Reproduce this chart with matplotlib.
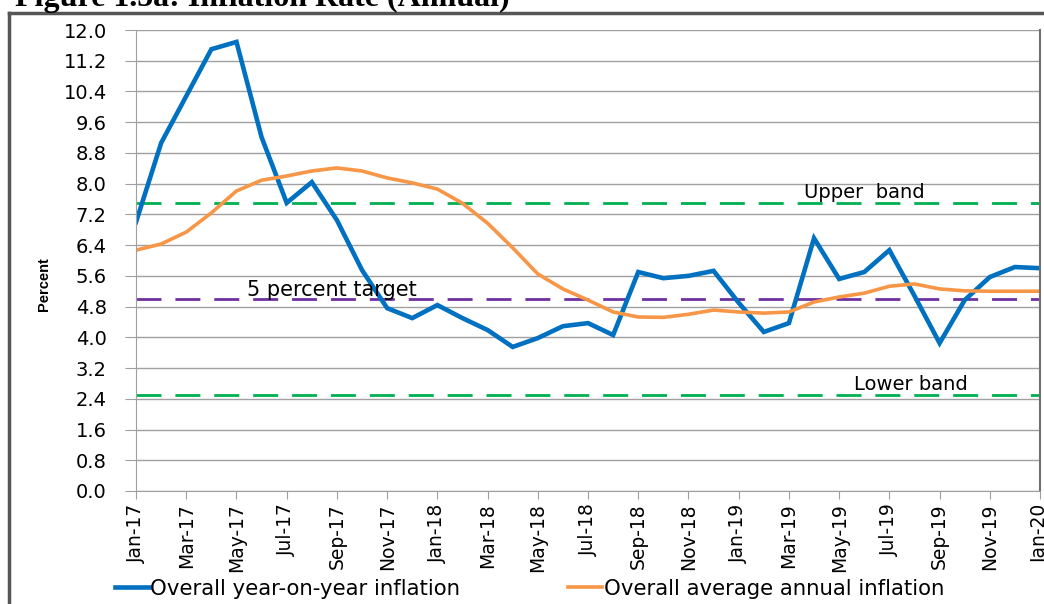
import numpy as np
import matplotlib.pyplot as plt
from matplotlib.lines import Line2D

# Monthly data, Jan-17 .. Jan-20
months = ["Jan-17", "Feb-17", "Mar-17", "Apr-17", "May-17", "Jun-17", "Jul-17", "Aug-17",
          "Sep-17", "Oct-17", "Nov-17", "Dec-17", "Jan-18", "Feb-18", "Mar-18", "Apr-18",
          "May-18", "Jun-18", "Jul-18", "Aug-18", "Sep-18", "Oct-18", "Nov-18", "Dec-18",
          "Jan-19", "Feb-19", "Mar-19", "Apr-19", "May-19", "Jun-19", "Jul-19", "Aug-19",
          "Sep-19", "Oct-19", "Nov-19", "Dec-19", "Jan-20"]

yoy = [7.00, 9.06, 10.28, 11.50, 11.69, 9.21, 7.50, 8.04,
       7.05, 5.75, 4.76, 4.50, 4.84, 4.50, 4.19, 3.75,
       3.98, 4.29, 4.37, 4.06, 5.70, 5.54, 5.60, 5.73,
       4.90, 4.14, 4.37, 6.58, 5.52, 5.70, 6.27, 5.08,
       3.85, 4.97, 5.57, 5.83, 5.80]

avg = [6.27, 6.43, 6.74, 7.24, 7.81, 8.09, 8.20, 8.33,
       8.41, 8.33, 8.15, 8.02, 7.86, 7.49, 6.97, 6.33,
       5.65, 5.26, 4.97, 4.66, 4.53, 4.52, 4.60, 4.71,
       4.66, 4.63, 4.66, 4.92, 5.05, 5.15, 5.33, 5.39,
       5.26, 5.21, 5.20, 5.20, 5.20]

upper_band = 7.5
target = 5.0
lower_band = 2.5

yticks = np.arange(0, 12.01, 0.8)

plt.rcParams['font.family'] = ['DejaVu Sans']

fig = plt.figure(figsize=(10.44, 6.04), dpi=100)
ax = fig.add_axes([0.1303, 0.1871, 0.8659, 0.7632])

x = np.arange(len(months))

ax.axhline(upper_band, color='#00B050', lw=2, dashes=(9, 5))
ax.axhline(lower_band, color='#00B050', lw=2, dashes=(9, 5))
ax.axhline(target, color='#7030A0', lw=2, dashes=(9, 5))

ax.plot(x, yoy, color='#0070C0', lw=3.3, solid_joinstyle='miter', label='Overall year-on-year inflation')
ax.plot(x, avg, color='#F79646', lw=2.6, label='Overall average annual inflation')

ax.text(26.6, 7.63, "Upper  band", fontsize=14)
ax.text(4.4, 5.08, "5 percent target", fontsize=15)
ax.text(28.6, 2.63, "Lower band", fontsize=14)

ax.set_xlim(0, 36)
ax.set_ylim(0, 12)
ax.set_yticks(yticks)
ax.set_yticklabels([f"{v:.1f}" for v in yticks], fontsize=14)
ax.set_xticks(x[::2])
ax.set_xticklabels(months[::2], rotation=90, fontsize=13.5)
ax.tick_params(axis='y', length=8, color='#A0A0A0', pad=13)
ax.tick_params(axis='x', length=6, color='#A0A0A0', pad=3)
ax.grid(axis='y', color='#A0A0A0', lw=1)
ax.set_axisbelow(True)
for side in ['left', 'bottom']:
    ax.spines[side].set_color('#A0A0A0')
ax.spines['top'].set_visible(False)
ax.spines['right'].set_color('#707070')
ax.spines['right'].set_linewidth(1.5)

fig.text(0.042, 0.53, "Percent", rotation=90, fontsize=10.5, fontweight='bold',
         family='Liberation Sans', ha='center', va='center')

fig.legend(loc='center left', bbox_to_anchor=(115/1044, 0.025), ncol=2, frameon=False,
           fontsize=15.3, handlelength=1.6, handletextpad=0.05, columnspacing=5.1,
           borderaxespad=0, borderpad=0)

# outer frame and clipped title
fig.add_artist(Line2D([9/1044, 9/1044], [0, 1 - 13/604], color='#555555', lw=2.5))
fig.add_artist(Line2D([9/1044, 1], [1 - 13/604, 1 - 13/604], color='#555555', lw=2.5))
fig.text(15/1044, 1 - 6/604, "Figure 1.5a: Inflation Rate (Annual)", fontsize=23,
         fontweight='bold', family='Liberation Serif', va='baseline')

fig.savefig("out.png", dpi=100)
